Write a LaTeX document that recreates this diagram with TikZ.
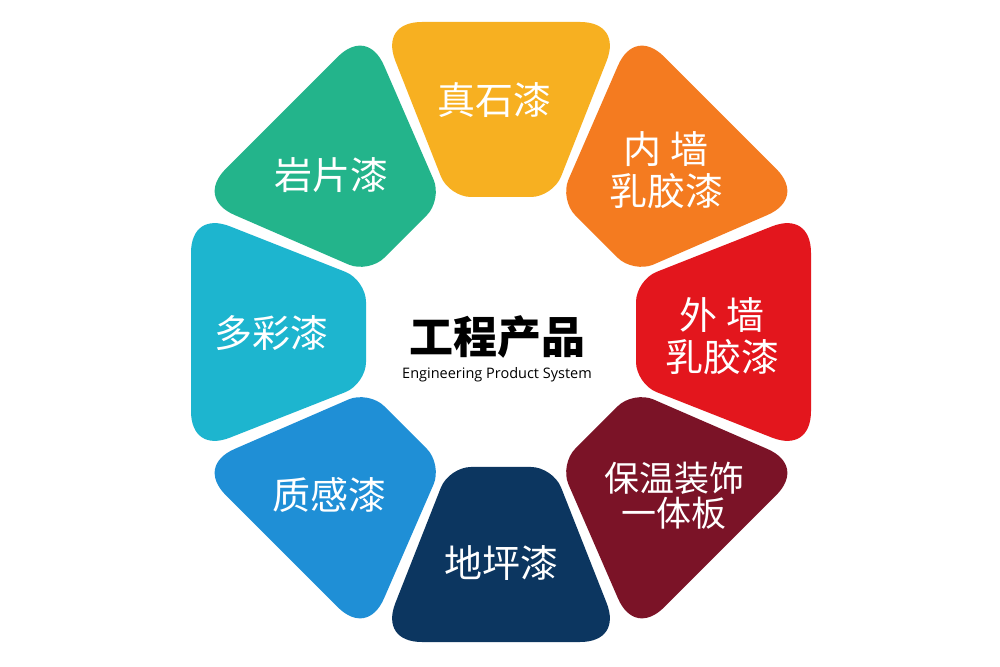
\documentclass[tikz,border=0pt]{standalone}
\usepackage{fontspec}
\newfontfamily\cjk{Noto Sans CJK SC}
\newfontfamily\latinsans{Open Sans}
\usetikzlibrary{calc}
\definecolor{cYellow}{HTML}{F7B021}
\definecolor{cOrange}{HTML}{F47B20}
\definecolor{cRed}{HTML}{E3161D}
\definecolor{cMaroon}{HTML}{7B1327}
\definecolor{cNavy}{HTML}{0C3660}
\definecolor{cBlue}{HTML}{1F8FD6}
\definecolor{cCyan}{HTML}{1DB5CF}
\definecolor{cGreen}{HTML}{23B48B}
\tikzset{
  petaltext/.style={text=white, font=\cjk\fontsize{38}{42}\selectfont, align=center, inner sep=0pt},
  smalltext/.style={text=white, font=\cjk\fontsize{35}{35}\selectfont, align=center, inner sep=0pt},
}
\newcommand\petal[2]{%
  \begin{scope}[shift={(501,334)},rotate=#1]
    \coordinate (A) at (-121,310);
    \coordinate (B) at (121,310);
    \coordinate (C) at (52,135);
    \coordinate (D) at (-52,135);
  \end{scope}
  \coordinate (AB) at ($(A)!42pt!(B)$);
  \coordinate (BA) at ($(B)!42pt!(A)$);
  \coordinate (BC) at ($(B)!42pt!(C)$);
  \coordinate (CB) at ($(C)!22pt!(B)$);
  \coordinate (CD) at ($(C)!22pt!(D)$);
  \coordinate (DC) at ($(D)!22pt!(C)$);
  \coordinate (DA) at ($(D)!22pt!(A)$);
  \coordinate (AD) at ($(A)!42pt!(D)$);
  \fill[#2] (AB) -- (BA)
    .. controls ($(BA)!0.6!(B)$) and ($(BC)!0.6!(B)$) .. (BC) -- (CB)
    .. controls ($(CB)!0.55!(C)$) and ($(CD)!0.55!(C)$) .. (CD) -- (DC)
    .. controls ($(DC)!0.55!(D)$) and ($(DA)!0.55!(D)$) .. (DA) -- (AD)
    .. controls ($(AD)!0.6!(A)$) and ($(AB)!0.6!(A)$) .. (AB) -- cycle;
}
\begin{document}
\begin{tikzpicture}[x=1pt,y=1pt]
  \fill[white] (0,0) rectangle (1000,666);
  \useasboundingbox (0,0) rectangle (1000,666);
  \petal{0}{cYellow}
  \petal{-45}{cOrange}
  \petal{-90}{cRed}
  \petal{-135}{cMaroon}
  \petal{180}{cNavy}
  \petal{135}{cBlue}
  \petal{90}{cCyan}
  \petal{45}{cGreen}
  \node[petaltext] (t1) at (494,566) {真石漆};
  \node[petaltext] (t2) at (666,496) {内 墙\\乳胶漆};
  \node[petaltext] (t3) at (722,330) {外 墙\\乳胶漆};
  \node[smalltext] (t4) at (674,170.5) {保温装饰\\一体板};
  \node[petaltext] (t5) at (501,103) {地坪漆};
  \node[petaltext] (t6) at (329,171) {质感漆};
  \node[petaltext] (t7) at (271,333) {多彩漆};
  \node[petaltext] (t8) at (331,491) {岩片漆};
  \node[inner sep=0pt, font=\cjk\bfseries\fontsize{44}{48}\selectfont] (title) at (497,329) {工程产品};
  \node[inner sep=0pt, font=\latinsans\fontsize{14.5}{17}\selectfont] (sub) at (497,291) {Engineering Product System};
\end{tikzpicture}
\end{document}
